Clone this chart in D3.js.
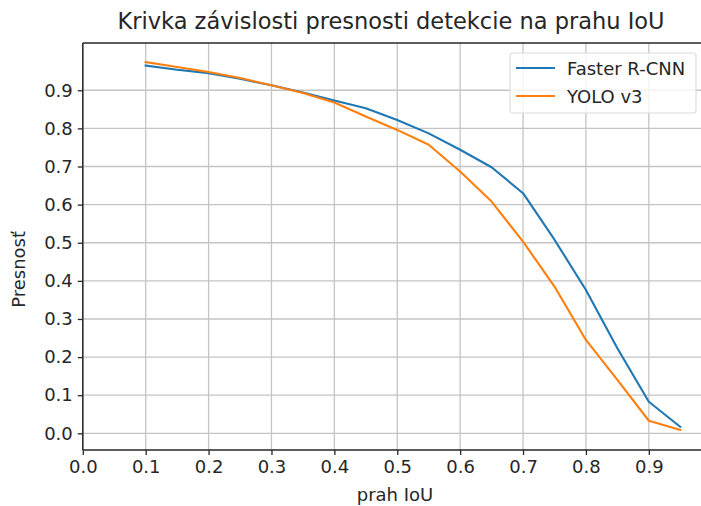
<!DOCTYPE html>
<html>
<head>
<meta charset="utf-8">
<script src="https://cdn.jsdelivr.net/npm/d3@7"></script>
<style>
  body { margin: 0; background: #fff; }
  text { font-family: "DejaVu Sans", sans-serif; fill: #262626; }
</style>
</head>
<body>
<div id="chart"></div>
<script>
// IoU thresholds and precision per detector
var thresholds = [0.1, 0.15, 0.2, 0.25, 0.3, 0.35, 0.4, 0.45, 0.5, 0.55, 0.6, 0.65, 0.7, 0.75, 0.8, 0.85, 0.9, 0.95];
var fasterRcnn = [0.965, 0.954, 0.945, 0.930, 0.913, 0.894, 0.873, 0.853, 0.822, 0.787, 0.744, 0.698, 0.630, 0.508, 0.376, 0.223, 0.083, 0.017];
var yolo3      = [0.974, 0.961, 0.948, 0.932, 0.913, 0.893, 0.868, 0.831, 0.796, 0.757, 0.687, 0.608, 0.503, 0.385, 0.245, 0.140, 0.033, 0.009];
var xTicks = [0, 0.1, 0.2, 0.3, 0.4, 0.5, 0.6, 0.7, 0.8, 0.9];
var yTicks = [0, 0.1, 0.2, 0.3, 0.4, 0.5, 0.6, 0.7, 0.8, 0.9];
var seriesNames = ["Faster R-CNN", "YOLO v3"];
var colors = ["#1f77b4", "#ff7f0e"];

var width = 701, height = 506;
var mLeft = 82.8, mRight = 707, mTop = 43, mBottom = 450;

var svg = d3.select("#chart").append("svg")
    .attr("width", width)
    .attr("height", height);

var x = d3.scaleLinear().domain([0, 0.9925]).range([mLeft, mRight]);
var y = d3.scaleLinear().domain([-0.0437, 1.024]).range([mBottom, mTop]);

// grid
svg.append("g").selectAll("line")
  .data(xTicks).enter().append("line")
    .attr("x1", function(d){ return x(d); })
    .attr("x2", function(d){ return x(d); })
    .attr("y1", mTop).attr("y2", mBottom)
    .attr("stroke", "#c4c4c4").attr("stroke-width", 1.3);
svg.append("g").selectAll("line")
  .data(yTicks).enter().append("line")
    .attr("y1", function(d){ return y(d); })
    .attr("y2", function(d){ return y(d); })
    .attr("x1", mLeft).attr("x2", mRight)
    .attr("stroke", "#c4c4c4").attr("stroke-width", 1.3);

// lines
var series = [fasterRcnn, yolo3];
var line = d3.line()
    .x(function(d, i){ return x(thresholds[i]); })
    .y(function(d){ return y(d); });
series.forEach(function(s, k){
  svg.append("path")
    .datum(s)
    .attr("d", line)
    .attr("fill", "none")
    .attr("stroke", colors[k])
    .attr("stroke-width", 2.1)
    .attr("stroke-linejoin", "round")
    .attr("stroke-linecap", "square");
});

// axes
var xAxis = d3.axisBottom(x).tickValues(xTicks).tickFormat(d3.format(".1f")).tickSize(5).tickPadding(5);
var yAxis = d3.axisLeft(y).tickValues(yTicks).tickFormat(d3.format(".1f")).tickSize(5).tickPadding(5);

var gx = svg.append("g").attr("transform", "translate(0," + mBottom + ")").call(xAxis);
var gy = svg.append("g").attr("transform", "translate(" + mLeft + ",0)").call(yAxis);
[gx, gy].forEach(function(g){
  g.select(".domain").remove();
  g.selectAll(".tick line").attr("stroke", "#262626").attr("stroke-width", 1.3);
  g.selectAll(".tick text").style("font-size", "18px").attr("fill", "#262626");
});

// spines
svg.append("line").attr("x1", mLeft).attr("x2", mLeft).attr("y1", mTop).attr("y2", mBottom)
  .attr("stroke", "#262626").attr("stroke-width", 1.5);
svg.append("line").attr("x1", mLeft).attr("x2", mRight).attr("y1", mBottom).attr("y2", mBottom)
  .attr("stroke", "#262626").attr("stroke-width", 1.5);
svg.append("line").attr("x1", mLeft).attr("x2", mRight).attr("y1", mTop).attr("y2", mTop)
  .attr("stroke", "#262626").attr("stroke-width", 1.5);

// title and labels
svg.append("text")
  .attr("x", 391).attr("y", 28.5)
  .attr("text-anchor", "middle")
  .style("font-size", "22.5px")
  .text("Krivka závislosti presnosti detekcie na prahu IoU");

svg.append("text")
  .attr("x", 395).attr("y", 501)
  .attr("text-anchor", "middle")
  .style("font-size", "18px")
  .text("prah IoU");

svg.append("text")
  .attr("transform", "translate(25," + y(0.43) + ") rotate(-90)")
  .attr("text-anchor", "middle")
  .style("font-size", "18px")
  .text("Presnosť");

// legend
var legend = svg.append("g").attr("transform", "translate(510,53)");
legend.append("rect")
  .attr("width", 186).attr("height", 60).attr("rx", 3)
  .attr("fill", "#fff").attr("fill-opacity", 0.8)
  .attr("stroke", "#dcdcdc").attr("stroke-width", 1.2);
seriesNames.forEach(function(name, k){
  var ly = 15 + k * 28;
  legend.append("line")
    .attr("x1", 6).attr("x2", 45).attr("y1", ly).attr("y2", ly)
    .attr("stroke", colors[k]).attr("stroke-width", 2.1);
  legend.append("text")
    .attr("x", 57).attr("y", ly + 6.5)
    .style("font-size", "18px")
    .text(name);
});
</script>
</body>
</html>
